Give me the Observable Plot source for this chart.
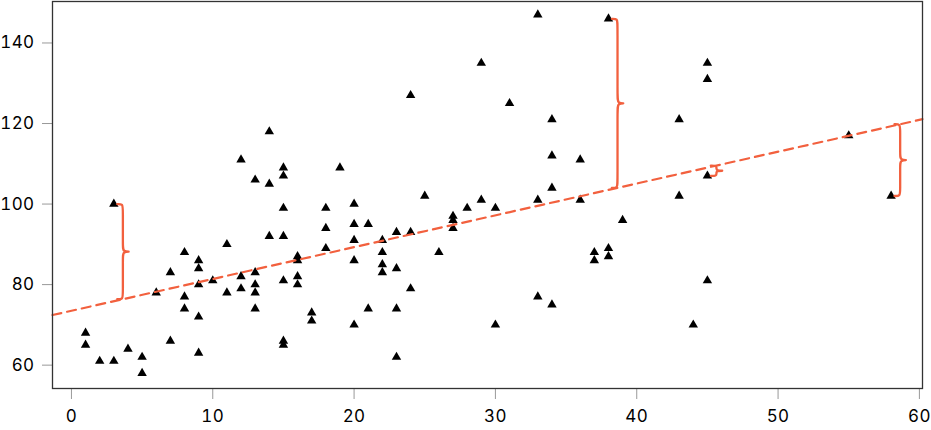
<!DOCTYPE html>
<html>
<head>
<meta charset="utf-8">
<script src="https://cdn.jsdelivr.net/npm/d3@7"></script>
<script src="https://cdn.jsdelivr.net/npm/@observablehq/plot@0.6"></script>
<style>
  html, body { margin: 0; padding: 0; background: #fff; }
  #chart svg { display: block; }
</style>
</head>
<body>
<div id="chart"></div>
<script>
// ---- data ----
const xValues = [1, 1, 2, 3, 3, 4, 5, 5, 6, 7, 7, 8, 8, 8, 9, 9, 9, 9, 9, 10,
  11, 11, 12, 12, 12, 13, 13, 13, 13, 13, 14, 14, 14, 15, 15, 15, 15, 15, 15, 15,
  16, 16, 16, 16, 17, 17, 18, 18, 18, 19, 20, 20, 20, 20, 20, 21, 21, 22, 22, 22,
  22, 23, 23, 23, 23, 24, 24, 24, 25, 26, 27, 27, 27, 28, 29, 29, 30, 30, 31, 33,
  33, 33, 34, 34, 34, 34, 36, 36, 37, 37, 38, 38, 38, 39, 43, 43, 44, 45, 45, 45,
  45, 55, 58];
const yValues = [68, 65, 61, 61, 100, 64, 62, 58, 78, 83, 66, 88, 77, 74, 86, 84, 80, 72, 63, 81,
  90, 78, 111, 82, 79, 106, 83, 80, 78, 74, 118, 105, 92, 109, 107, 99, 92, 81, 66, 65,
  87, 86, 82, 80, 73, 71, 99, 94, 89, 109, 100, 95, 91, 86, 70, 95, 74, 91, 88, 85,
  83, 93, 84, 74, 62, 127, 93, 79, 102, 88, 97, 96, 94, 99, 135, 101, 99, 70, 125, 147,
  101, 77, 121, 112, 104, 75, 111, 101, 88, 86, 146, 89, 87, 96, 121, 102, 70, 135, 131, 107,
  81, 117, 102];

// fitted line (intercept, slope)
const fitIntercept = 73.5;
const fitSlope = 0.79;

// points whose residuals are marked with a brace
const bracedX = [3, 38, 45, 58];
const bracedY = [100, 146, 107, 102];

// axis ticks
const xTicks = [0, 10, 20, 30, 40, 50, 60];
const yTicks = [60, 80, 100, 120, 140];

// scale domains
const xDomain = [-1.34, 60.22];
const yDomain = [54.2, 150.3];

const accent = "#f2603e";

// ---- derived tables ----
const points = xValues.map((x, i) => ({x, y: yValues[i]}));
const fit = x => fitIntercept + fitSlope * x;
const fitLine = xDomain.map(x => ({x, y: fit(x)}));

const braces = [];
bracedX.forEach((px, i) => {
  const py = bracedY[i];
  const x0 = px + 0.24, x1 = px + 0.64, x2 = px + 1.25;
  const ly = fit(x1);
  const top = Math.max(py, ly), bot = Math.min(py, ly);
  const h = top - bot;
  const r = Math.min(1.3, h / 4);
  const mid = (top + bot) / 2;
  const ctrl = [
    [x0, top], [x1, top], [x1, top - r], [x1, mid + r], [x1, mid],
    [x2, mid], [x1, mid], [x1, mid - r], [x1, bot + r], [x1, bot], [x0, bot]
  ];
  ctrl.forEach(([x, y]) => braces.push({id: i, x, y}));
});

const chart = Plot.plot({
  width: 931,
  height: 430,
  marginLeft: 52,
  marginRight: 9,
  marginTop: 1,
  marginBottom: 42,
  x: {domain: xDomain},
  y: {domain: yDomain},
  style: {
    fontFamily: "Inter, 'Open Sans', sans-serif",
    fontSize: "17px",
    letterSpacing: "0.4px",
    color: "#000",
    background: "#fff",
    overflow: "visible"
  },
  marks: [
    Plot.axisX({ticks: xTicks, tickSize: 11, tickPadding: 10, stroke: "#999", fill: "#000", label: null}),
    Plot.axisY({ticks: yTicks, tickSize: 10, tickPadding: 8, stroke: "#999", fill: "#000", label: null}),
    Plot.dot(points, {x: "x", y: "y", symbol: "triangle", r: 3.5, fill: "#000", stroke: "none"}),
    Plot.line(fitLine, {x: "x", y: "y", stroke: accent, strokeWidth: 2.2, strokeDasharray: "9,6"}),
    Plot.line(braces, {x: "x", y: "y", z: "id", curve: "basis", stroke: accent, strokeWidth: 2.3}),
    Plot.frame({stroke: "#333", strokeWidth: 1.3})
  ]
});

document.getElementById("chart").appendChild(chart);
</script>
</body>
</html>
